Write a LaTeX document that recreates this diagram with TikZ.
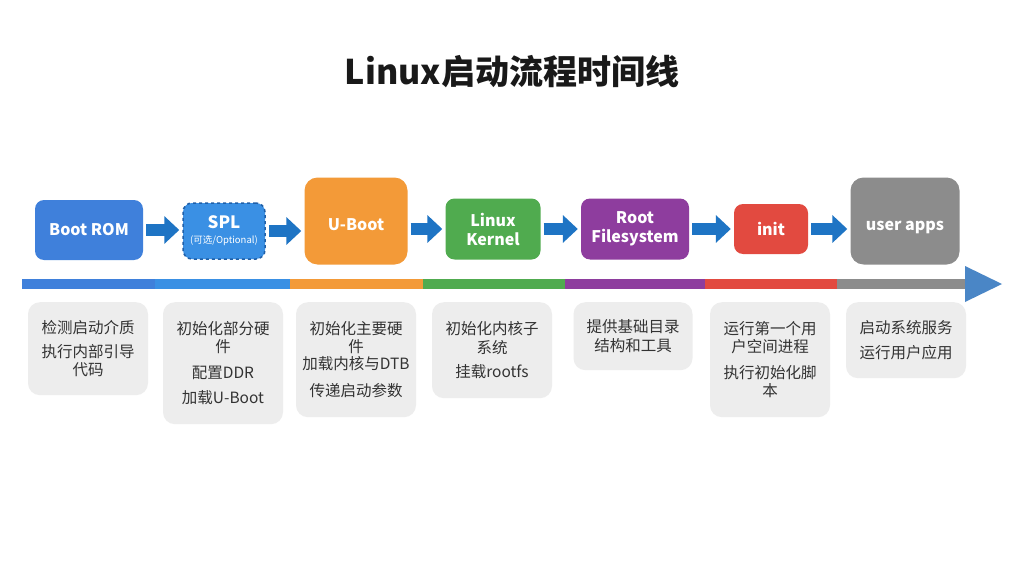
\documentclass[tikz,border=0pt]{standalone}
\usepackage{fontspec}
\setmainfont{Noto Sans CJK SC}
\usetikzlibrary{arrows.meta}
\definecolor{cROM}{HTML}{3F80DB}
\definecolor{cSPL}{HTML}{3A90E4}
\definecolor{cSPLb}{HTML}{1F5FA8}
\definecolor{cUB}{HTML}{F39A38}
\definecolor{cLK}{HTML}{50AB4F}
\definecolor{cRF}{HTML}{8E3D9E}
\definecolor{cIN}{HTML}{E24A40}
\definecolor{cUA}{HTML}{8C8C8C}
\definecolor{cArr}{HTML}{1E74C4}
\definecolor{cDesc}{HTML}{EDEDED}
\definecolor{cTxt}{HTML}{333333}
\definecolor{cHead}{HTML}{4A86C6}
\tikzset{
  stage/.style={rounded corners=9pt, text=white, align=center, inner sep=0pt,
    font=\fontsize{16}{19}\selectfont\bfseries},
  desc/.style={rounded corners=12pt, fill=cDesc, text=cTxt, align=center,
    minimum width=120pt, inner sep=0pt, anchor=north,
    font=\fontsize{15.5}{18.5}\selectfont},
  flow/.style={cArr, line width=12pt, -{Triangle[length=15pt,width=27pt]},
    shorten <=3pt, shorten >=3pt}
}
\begin{document}
\begin{tikzpicture}[x=1pt,y=-1pt]
\useasboundingbox[fill=white] (0,0) rectangle (1024,572);
% title
\node[font=\fontsize{34}{40}\selectfont\bfseries, text=black!90] (title) at (512,72) {Linux启动流程时间线};
% stages
\node[stage, fill=cROM, minimum width=108pt, minimum height=60pt] (rom) at (89,230) {Boot ROM};
\node[stage, fill=cSPL, draw=cSPLb, dashed, line width=1.5pt, minimum width=82pt, minimum height=56pt] (spl) at (224,231)
  {{\fontsize{17}{19}\selectfont SPL}\\[-4pt]{\fontsize{9.5}{10}\selectfont\mdseries (可选/Optional)}};
\node[stage, fill=cUB, rounded corners=13pt, minimum width=103pt, minimum height=87pt] (uboot) at (356,221) {\raisebox{-9pt}[0pt][0pt]{U-Boot}};
\node[stage, fill=cLK, minimum width=95pt, minimum height=61pt] (kernel) at (493,229) {Linux\\Kernel};
\node[stage, fill=cRF, minimum width=108pt, minimum height=61pt] (rootfs) at (635,229) {Root\\Filesystem};
\node[stage, fill=cIN, minimum width=74pt, minimum height=50pt] (init) at (771,229) {init};
\node[stage, fill=cUA, rounded corners=13pt, minimum width=109pt, minimum height=87pt] (apps) at (905,221) {\raisebox{-9pt}[0pt][0pt]{user apps}};
% flow arrows
\draw[flow] (rom.east) -- (spl.west |- rom.east);
\draw[flow] (spl.east) -- (uboot.west |- spl.east);
\draw[flow] (uboot.east |- kernel.west) -- (kernel.west);
\draw[flow] (kernel.east) -- (rootfs.west);
\draw[flow] (rootfs.east) -- (init.west);
\draw[flow] (init.east) -- (apps.west |- init.east);
% timeline
\fill[cROM] (22,279) rectangle (155,289);
\fill[cSPL] (155,279) rectangle (290,289);
\fill[cUB] (290,279) rectangle (423,289);
\fill[cLK] (423,279) rectangle (565,289);
\fill[cRF] (565,279) rectangle (705,289);
\fill[cIN] (705,279) rectangle (837,289);
\fill[cUA] (837,279) rectangle (966,289);
\fill[cHead] (965,266) -- (1002,284) -- (965,302) -- cycle;
% descriptions
\node[desc, minimum height=93pt] (d1) at (88,302) {检测启动介质\\[5pt]执行内部引导\\代码};
\node[desc, minimum height=122pt] (d2) at (223,302) {初始化部分硬\\件\\[7pt]配置DDR\\[7pt]加载U-Boot};
\node[desc, minimum height=115pt] (d3) at (356,302) {初始化主要硬\\[-1pt]件\\[-1pt]加载内核与DTB\\[8pt]传递启动参数};
\node[desc, minimum height=96pt] (d4) at (492,302) {初始化内核子\\系统\\[6pt]挂载rootfs};
\node[desc, minimum height=68pt, minimum width=119pt] (d5) at (633,302) {提供基础目录\\结构和工具};
\node[desc, minimum height=115pt] (d6) at (770,302) {运行第一个用\\户空间进程\\[7pt]执行初始化脚\\本};
\node[desc, minimum height=76pt] (d7) at (906,302) {启动系统服务\\[6pt]运行用户应用};
\end{tikzpicture}
\end{document}
